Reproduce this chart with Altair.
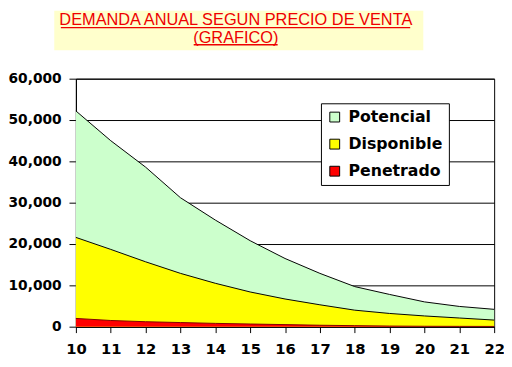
import altair as alt
import pandas as pd

# ---- data ----
precio = [10, 11, 12, 13, 14, 15, 16, 17, 18, 19, 20, 21, 22]
potencial = [52200, 45000, 38600, 31200, 25800, 20800, 16500, 12900, 9700, 7800, 6000, 4900, 4200]
disponible = [21600, 18700, 15700, 12900, 10500, 8400, 6700, 5300, 4000, 3200, 2600, 2100, 1600]
penetrado = [2000, 1500, 1200, 1000, 800, 650, 500, 350, 250, 150, 100, 80, 60]

series = ["Potencial", "Disponible", "Penetrado"]
colors = ["#CCFFCC", "#FFFF00", "#FF0000"]
edge_colors = ["black", "black", "#800000"]
title_lines = ["DEMANDA ANUAL SEGUN PRECIO DE VENTA", "(GRAFICO)"]
y_ticks = [0, 10000, 20000, 30000, 40000, 50000, 60000]

rows = []
for name, vals in zip(series, [potencial, disponible, penetrado]):
    for p, v in zip(precio, vals):
        rows.append({"precio": p, "serie": name, "valor": v})
df = pd.DataFrame(rows)

color_scale = alt.Scale(domain=series, range=colors)
legend = alt.Legend(
    title=None, orient="none", legendX=249, legendY=25,
    symbolType="square", symbolSize=100, symbolStrokeColor="black",
    symbolStrokeWidth=1, symbolOpacity=1,
    labelFont="DejaVu Sans", labelFontWeight="bold", labelFontSize=16,
    labelColor="black", labelOffset=6, rowPadding=11.5, padding=6,
    strokeColor="black", fillColor="white", cornerRadius=0,
)

x_enc = alt.X("precio:Q", scale=alt.Scale(domain=[10, 22], nice=False),
              axis=alt.Axis(values=precio, title=None, grid=False, format="d",
                            labelFont="DejaVu Sans", labelFontWeight="bold",
                            labelFontSize=15, labelColor="black",
                            tickColor="black", tickSize=6, domainColor="black",
                            labelPadding=9, labelOverlap=False, labelFlush=False))
y_enc = alt.Y("valor:Q", scale=alt.Scale(domain=[0, 60000], nice=False),
              axis=alt.Axis(values=y_ticks, title=None, format=",.0f",
                            grid=True, gridColor="black", gridWidth=1, gridOpacity=1,
                            labelFont="DejaVu Sans", labelFontWeight="bold",
                            labelFontSize=14, labelColor="black",
                            tickColor="black", tickSize=7, domainColor="black",
                            labelPadding=8, labelFlush=False))

layers = []
for name, edge in zip(series, edge_colors):
    base = alt.Chart(df).transform_filter(alt.datum.serie == name)
    layers.append(
        base.mark_area(opacity=1)
        .encode(x=x_enc, y=y_enc,
                color=alt.Color("serie:N", scale=color_scale, legend=legend))
    )
    layers.append(
        base.mark_line(color=edge, strokeWidth=1)
        .encode(x=x_enc, y=y_enc)
    )

one = pd.DataFrame({"k": [0]})
bg = alt.Chart(one).mark_rect(color="#FFFFCC").encode(
    x=alt.value(-22), x2=alt.value(353), y=alt.value(-69), y2=alt.value(-29))
t1 = alt.Chart(one).mark_text(font="Liberation Sans", fontSize=16.6, color="#EE0000",
                              align="center", baseline="alphabetic").encode(
    x=alt.value(162.5), y=alt.value(-54.5), text=alt.value(title_lines[0]))
t2 = alt.Chart(one).mark_text(font="Liberation Sans", fontSize=16.6, color="#EE0000",
                              align="center", baseline="alphabetic").encode(
    x=alt.value(162.5), y=alt.value(-36.5), text=alt.value(title_lines[1]))
u1 = alt.Chart(one).mark_rule(color="#EE0000", strokeWidth=1.3).encode(
    x=alt.value(-15.3), x2=alt.value(339.7), y=alt.value(-52))
u2 = alt.Chart(one).mark_rule(color="#EE0000", strokeWidth=1.3).encode(
    x=alt.value(119.7), x2=alt.value(205), y=alt.value(-34.5))

chart = alt.layer(bg, t1, t2, u1, u2, *layers).properties(
    width=425, height=252,
    autosize=alt.AutoSizeParams(type="none"),
    padding={"left": 69, "top": 69, "right": 10, "bottom": 30},
    background="white",
).configure_view(stroke="black", strokeWidth=1)

chart.save("out.html", embed_options={"renderer": "svg", "actions": False})
